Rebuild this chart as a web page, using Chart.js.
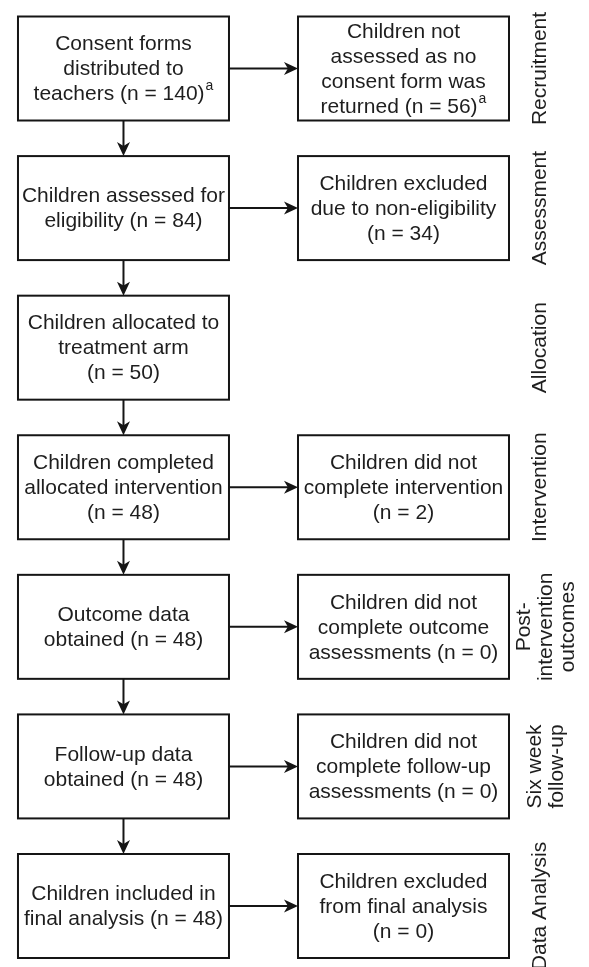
<!DOCTYPE html>
<html>
<head>
<meta charset="utf-8">
<script src="https://cdn.jsdelivr.net/npm/chart.js@4/dist/chart.umd.min.js"></script>
<style>
  html, body { margin: 0; padding: 0; background: #fff; }
  #wrap { width: 589px; height: 967px; position: relative; }
</style>
</head>
<body>
<div id="wrap"><canvas id="flow"></canvas></div>
<script>
// flow stages, one per row (top to bottom)
const stages = ['Recruitment', 'Assessment', 'Allocation', 'Intervention',
  ['Post-', 'intervention', 'outcomes'], ['Six week', 'follow-up'], 'Data Analysis'];

// main column boxes ("^a" = footnote marker)
const mainBoxes = [
  ['Consent forms', 'distributed to', 'teachers (n = 140)^a'],
  ['Children assessed for', 'eligibility (n = 84)'],
  ['Children allocated to', 'treatment arm', '(n = 50)'],
  ['Children completed', 'allocated intervention', '(n = 48)'],
  ['Outcome data', 'obtained (n = 48)'],
  ['Follow-up data', 'obtained (n = 48)'],
  ['Children included in', 'final analysis (n = 48)']
];

// side (exclusion) boxes, null where there is none
const sideBoxes = [
  ['Children not', 'assessed as no', 'consent form was', 'returned (n = 56)^a'],
  ['Children excluded', 'due to non-eligibility', '(n = 34)'],
  null,
  ['Children did not', 'complete intervention', '(n = 2)'],
  ['Children did not', 'complete outcome', 'assessments (n = 0)'],
  ['Children did not', 'complete follow-up', 'assessments (n = 0)'],
  ['Children excluded', 'from final analysis', '(n = 0)']
];

const mainPoints = mainBoxes.map((b, i) => ({x: 0, y: i}));
const sidePoints = [];
sideBoxes.forEach((b, i) => { if (b) sidePoints.push({x: 1, y: i, row: i}); });

const FONT = '"Liberation Sans", Arial, Helvetica, sans-serif';
const BOX_W = 211, BOX_H = 104, LINE_H = 25, FS = 21;
const INK = '#151515', TXT = '#1e1e1e';

function drawRichLine(ctx, s, cx, y) {
  let main = s, sup = '';
  if (s.indexOf('^') >= 0) { main = s.split('^')[0]; sup = s.split('^')[1]; }
  ctx.font = FS + 'px ' + FONT;
  const w1 = ctx.measureText(main).width;
  ctx.font = '14px ' + FONT;
  const w2 = sup ? ctx.measureText(sup).width + 1 : 0;
  let x0 = cx - (w1 + w2) / 2;
  ctx.textAlign = 'left';
  ctx.textBaseline = 'middle';
  ctx.font = FS + 'px ' + FONT;
  ctx.fillText(main, x0, y);
  if (sup) {
    ctx.font = '14px ' + FONT;
    ctx.fillText(sup, x0 + w1 + 1, y - 8);
  }
}

function drawBox(ctx, cx, cy, lines) {
  ctx.fillStyle = '#fff';
  ctx.fillRect(cx - BOX_W / 2, cy - BOX_H / 2, BOX_W, BOX_H);
  ctx.lineWidth = 2;
  ctx.strokeStyle = INK;
  ctx.strokeRect(cx - BOX_W / 2, cy - BOX_H / 2, BOX_W, BOX_H);
  ctx.fillStyle = TXT;
  const start = cy - (lines.length - 1) * LINE_H / 2;
  lines.forEach((l, k) => drawRichLine(ctx, l, cx, start + k * LINE_H + 1));
}

function arrow(ctx, x1, y1, x2, y2) {
  const ang = Math.atan2(y2 - y1, x2 - x1);
  const len = 14, half = 6.5;
  ctx.lineWidth = 2;
  ctx.strokeStyle = INK;
  ctx.beginPath();
  ctx.moveTo(x1, y1);
  ctx.lineTo(x2 - Math.cos(ang) * 8, y2 - Math.sin(ang) * 8);
  ctx.stroke();
  ctx.save();
  ctx.translate(x2, y2);
  ctx.rotate(ang);
  ctx.fillStyle = INK;
  ctx.beginPath();
  ctx.moveTo(0, 0);
  ctx.lineTo(-len, -half);
  ctx.lineTo(-len * 0.72, 0);
  ctx.lineTo(-len, half);
  ctx.closePath();
  ctx.fill();
  ctx.restore();
}

const flowPlugin = {
  id: 'flow',
  afterDatasetsDraw(chart) {
    const ctx = chart.ctx;
    const mainMeta = chart.getDatasetMeta(0).data;
    const sideMeta = chart.getDatasetMeta(1).data;
    ctx.save();
    // vertical arrows between main boxes
    for (let i = 0; i < mainMeta.length - 1; i++) {
      const a = mainMeta[i], b = mainMeta[i + 1];
      arrow(ctx, a.x, a.y + BOX_H / 2, b.x, b.y - BOX_H / 2);
    }
    // horizontal arrows to side boxes
    sideMeta.forEach((p, k) => {
      const m = mainMeta[sidePoints[k].row];
      arrow(ctx, m.x + BOX_W / 2, m.y, p.x - BOX_W / 2, p.y);
    });
    mainMeta.forEach((p, i) => drawBox(ctx, p.x, p.y, mainBoxes[i]));
    sideMeta.forEach((p, k) => drawBox(ctx, p.x, p.y, sideBoxes[sidePoints[k].row]));
    // stage labels, rotated
    const xs = chart.scales.x;
    const labelX = xs.getPixelForValue(1) + 137;
    mainMeta.forEach((p, i) => {
      const lines = Array.isArray(stages[i]) ? stages[i] : [stages[i]];
      const lh = 22;
      const cx = lines.length > 1 ? labelX + 6 : labelX;
      ctx.save();
      ctx.translate(cx, p.y);
      ctx.rotate(-Math.PI / 2);
      ctx.fillStyle = TXT;
      ctx.font = FS + 'px ' + FONT;
      ctx.textAlign = 'center';
      ctx.textBaseline = 'middle';
      const st = -(lines.length - 1) * lh / 2;
      lines.forEach((l, k) => ctx.fillText(l, 0, st + k * lh));
      ctx.restore();
    });
    ctx.restore();
  }
};

new Chart(document.getElementById('flow'), {
  type: 'scatter',
  data: {
    datasets: [
      {label: 'main', data: mainPoints, pointRadius: 0},
      {label: 'excluded', data: sidePoints, pointRadius: 0}
    ]
  },
  options: {
    responsive: true,
    maintainAspectRatio: false,
    animation: false,
    layout: {padding: 0},
    plugins: {legend: {display: false}, tooltip: {enabled: false}},
    scales: {
      x: {type: 'linear', display: false, min: -0.441, max: 1.6625},
      y: {type: 'linear', display: false, reverse: true, min: -0.4908, max: 6.437}
    }
  },
  plugins: [flowPlugin]
});
</script>
</body>
</html>
